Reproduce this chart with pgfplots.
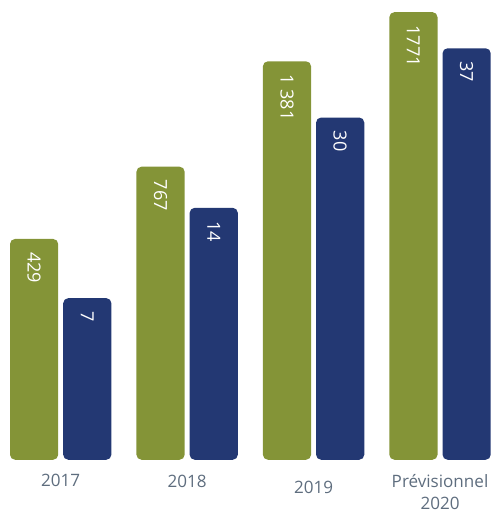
\documentclass[border=0pt]{standalone}
\usepackage{fontspec}
\setmainfont{Open Sans}
\usepackage{pgfplots}
\pgfplotsset{compat=1.18}

\definecolor{barGreen}{HTML}{849437}
\definecolor{barNavy}{HTML}{233873}
\definecolor{labelGrey}{HTML}{5E6D7E}

\begin{document}
\begin{tikzpicture}
\begin{axis}[
  scale only axis,
  width=493pt, height=458pt,
  xmin=-0.48, xmax=3.433,
  ymin=0, ymax=458,
  axis line style={draw=none},
  major tick length=0pt,
  ytick=\empty,
  xtick={0,1,2,3},
  xticklabels={2017, \raisebox{-1pt}[\height]{2018}, \raisebox{-7pt}[\height]{2019}, {Prévisionnel\\2020}},
  xticklabel style={align=center, font=\fontsize{17}{22}\selectfont,
    text=labelGrey, yshift=-11pt},
  ybar=5pt, bar width=48pt,
  point meta=explicit symbolic,
  nodes near coords,
  every node near coord/.append style={rotate=-90, anchor=west, xshift=13pt,
    text=white, font=\fontsize{18}{20}\selectfont, inner sep=0pt},
  clip=false,
]
% bar heights as drawn (px above the baseline), printed values as labels
\addplot[fill=barGreen, draw=none, rounded corners=5pt] coordinates {
  (0,220) [429]
  (1,292) [767]
  (2,397) [1~381]
  (3,446) [1771]
};
\addplot[fill=barNavy, draw=none, rounded corners=5pt] coordinates {
  (0,161) [7]
  (1,251) [14]
  (2,341) [30]
  (3,410) [37]
};
\end{axis}
\end{tikzpicture}
\end{document}
